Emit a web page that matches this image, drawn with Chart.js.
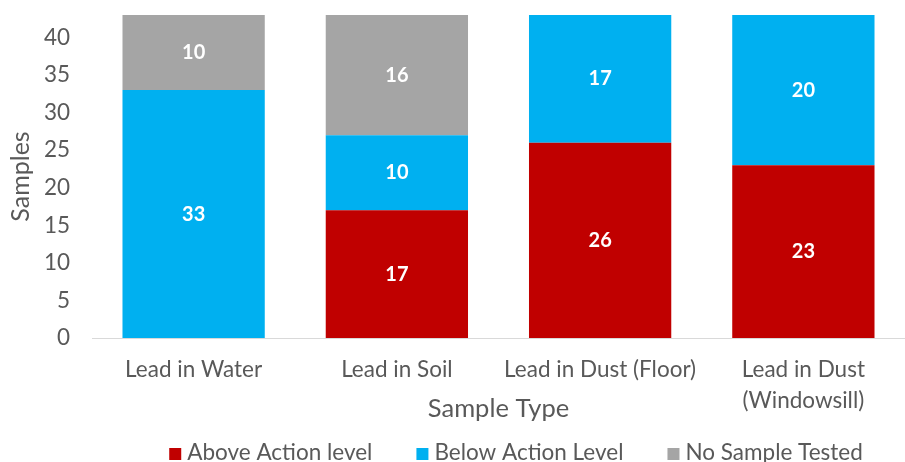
<!DOCTYPE html>
<html>
<head>
<meta charset="utf-8">
<script src="https://cdn.jsdelivr.net/npm/chart.js@4/dist/chart.umd.min.js"></script>
<style>
  html, body { margin: 0; padding: 0; background: #fff; }
  #wrap { width: 905px; height: 462px; }
</style>
</head>
<body>
<div id="wrap"><canvas id="c" width="905" height="462"></canvas></div>
<script>
// Sample counts per sample type
const categories = ['Lead in Water', 'Lead in Soil', 'Lead in Dust (Floor)', ['Lead in Dust', '(Windowsill)']];
const aboveAction = [0, 17, 26, 23];
const belowAction = [33, 10, 17, 20];
const noSample = [10, 16, 0, 0];
const yTicks = [0, 5, 10, 15, 20, 25, 30, 35, 40];

const FONT = 'Lato, "Liberation Sans", sans-serif';
const TEXT = '#595959';
const LABEL_SIZE = 22.5;

// Writes each non-zero segment's value in its middle
const segmentLabels = {
  id: 'segmentLabels',
  afterDatasetsDraw(chart) {
    const ctx = chart.ctx;
    ctx.save();
    ctx.fillStyle = '#ffffff';
    ctx.font = 'bold 20px ' + FONT;
    ctx.textAlign = 'center';
    ctx.textBaseline = 'middle';
    chart.data.datasets.forEach((ds, i) => {
      const meta = chart.getDatasetMeta(i);
      meta.data.forEach((bar, j) => {
        const v = ds.data[j];
        if (!v) return;
        ctx.fillText(String(v), bar.x, (bar.y + bar.base) / 2);
      });
    });
    ctx.restore();
  }
};

// Single-row legend along the bottom edge, built from the dataset labels and colours
const bottomLegend = {
  id: 'bottomLegend',
  afterDraw(chart) {
    const ctx = chart.ctx;
    const box = 12, boxGap = 6, itemGap = 44;
    ctx.save();
    ctx.font = LABEL_SIZE + 'px ' + FONT;
    ctx.textBaseline = 'middle';
    ctx.textAlign = 'left';
    const items = chart.data.datasets.map(ds => ({
      text: ds.label, color: ds.backgroundColor, w: ctx.measureText(ds.label).width
    }));
    const total = items.reduce((s, it) => s + box + boxGap + it.w, 0) + itemGap * (items.length - 1);
    let x = 516 - total / 2;
    const yMid = 453;
    items.forEach(it => {
      ctx.fillStyle = it.color;
      ctx.fillRect(x, yMid - 5, box, box);
      x += box + boxGap;
      ctx.fillStyle = TEXT;
      ctx.fillText(it.text, x, yMid);
      x += it.w + itemGap;
    });
    ctx.restore();
  }
};

new Chart(document.getElementById('c'), {
  type: 'bar',
  data: {
    labels: categories,
    datasets: [
      { label: 'Above Action level', data: aboveAction, backgroundColor: '#C00000' },
      { label: 'Below Action Level', data: belowAction, backgroundColor: '#00B0F0' },
      { label: 'No Sample Tested', data: noSample, backgroundColor: '#A5A5A5' }
    ]
  },
  options: {
    responsive: false,
    animation: false,
    devicePixelRatio: 1,
    layout: { padding: { top: 15, right: 0, left: 0, bottom: 38 } },
    datasets: { bar: { categoryPercentage: 1.0, barPercentage: 0.70, borderWidth: 0 } },
    scales: {
      x: {
        stacked: true,
        grid: { display: false, drawTicks: false },
        border: { display: true, color: '#D9D9D9', width: 1 },
        ticks: { color: TEXT, font: { family: FONT, size: LABEL_SIZE, lineHeight: 1.38 }, padding: 16, maxRotation: 0, autoSkip: false },
        title: { display: true, text: 'Sample Type', color: TEXT, font: { family: FONT, size: 25.5 }, padding: { top: 0, bottom: 0 } },
        afterFit(scale) { scale.height = 86; }
      },
      y: {
        stacked: true,
        min: 0,
        max: 43,
        grid: { display: false, drawTicks: false },
        border: { display: false },
        afterBuildTicks(scale) { scale.ticks = yTicks.map(v => ({ value: v })); },
        ticks: { color: TEXT, font: { family: FONT, size: LABEL_SIZE }, padding: 22 },
        title: { display: true, text: 'Samples', color: TEXT, font: { family: FONT, size: 25 }, padding: { top: 6, bottom: 0 } },
        afterFit(scale) { scale.width = 92; scale.paddingTop = 0; scale.paddingBottom = 0; }
      }
    },
    plugins: {
      legend: { display: false },
      tooltip: { enabled: false }
    }
  },
  plugins: [segmentLabels, bottomLegend]
});
</script>
</body>
</html>
